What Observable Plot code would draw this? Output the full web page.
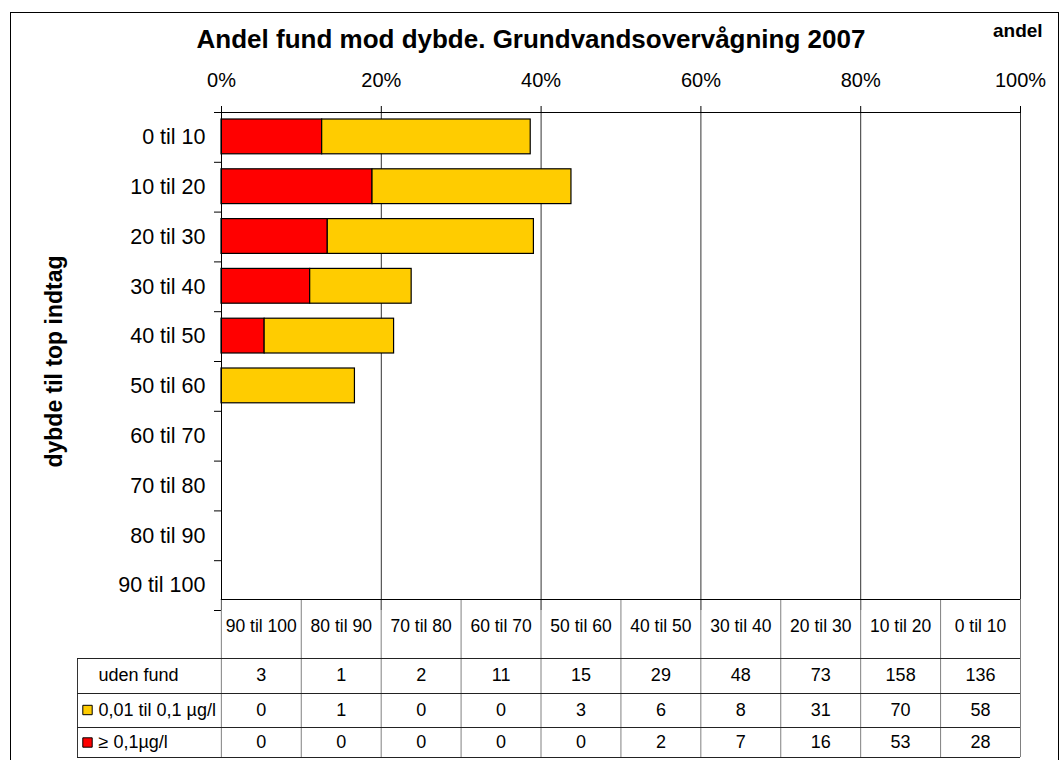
<!DOCTYPE html>
<html>
<head>
<meta charset="utf-8">
<script src="https://cdn.jsdelivr.net/npm/d3@7"></script>
<script src="https://cdn.jsdelivr.net/npm/@observablehq/plot@0.6"></script>
<style>
  body { margin: 0; background: #fff; font-family: "Liberation Sans", Arial, sans-serif; }
  #wrap { position: relative; width: 1062px; height: 760px; overflow: hidden; background: #fff; }
  #border { position: absolute; left: 10px; top: 12px; width: 1049px; height: 820px; border: 1px solid #000; box-sizing: border-box; }
  #title { position: absolute; left: 0; top: 26px; width: 1062px; text-align: center; font-weight: bold; font-size: 26px; line-height: 26px; color: #000; }
  #unit { position: absolute; left: 993px; top: 21px; font-weight: bold; font-size: 19px; line-height: 19px; color: #000; }
  #chart { position: absolute; left: 0; top: 0; }
  #table { position: absolute; left: 0; top: 599px; }
  svg { overflow: visible; }
</style>
</head>
<body>
<div id="wrap">
  <div id="border"></div>
  <div id="chart"></div>
  <div id="table"></div>
  <div id="title">Andel fund mod dybde. Grundvandsovervågning 2007</div>
  <div id="unit">andel</div>
</div>
<script>
// ---- data ----
const depthLabels = ["0 til 10", "10 til 20", "20 til 30", "30 til 40", "40 til 50",
                     "50 til 60", "60 til 70", "70 til 80", "80 til 90", "90 til 100"];
// bar shares in percent
const shareHigh = [12.6, 18.9, 13.3, 11.1, 5.4, 0, 0, 0, 0, 0];      // ≥ 0,1 µg/l
const shareLow  = [26.1, 24.9, 25.8, 12.7, 16.2, 16.7, 0, 0, 0, 0];  // 0,01 til 0,1 µg/l
// data table counts
const countNone = [136, 158, 73, 48, 29, 15, 11, 2, 1, 3];
const countLow  = [58, 70, 31, 8, 6, 3, 0, 0, 1, 0];
const countHigh = [28, 53, 16, 7, 2, 0, 0, 0, 0, 0];
const rowLabels = ["uden fund", "0,01 til 0,1 µg/l", "≥ 0,1µg/l"];
const seriesNames = ["≥ 0,1µg/l", "0,01 til 0,1 µg/l"];
const xTicks = [0, 20, 40, 60, 80, 100];
const yTitle = "dybde til top indtag";

// ---- styling / layout ----
const colors = ["#FF0000", "#FFCC00"];
const font = "'Liberation Sans', Arial, sans-serif";

const bars = depthLabels.flatMap((d, i) => [
  {i, series: seriesNames[0], x1: 0, x2: shareHigh[i]},
  {i, series: seriesNames[1], x1: shareHigh[i], x2: shareHigh[i] + shareLow[i]}
]).filter(b => b.x2 > b.x1);

const chart = Plot.plot({
  width: 1062, height: 615,
  marginLeft: 221, marginRight: 42, marginTop: 112, marginBottom: 5,
  style: {fontFamily: font, fontSize: "20px", color: "#000", background: "transparent", overflow: "visible"},
  x: {domain: [0, 100], axis: null},
  y: {domain: [0, depthLabels.length], reverse: true, axis: null},
  color: {domain: seriesNames, range: colors},
  marks: [
    Plot.gridX(xTicks.slice(1), {stroke: "#333", strokeOpacity: 1}),
    Plot.rectX(bars, {x1: "x1", x2: "x2", y1: d => d.i, y2: d => d.i + 1,
      insetTop: 7, insetBottom: 8, fill: "series", stroke: "#000", strokeWidth: 1.2}),
    Plot.axisX({anchor: "top", ticks: xTicks, tickFormat: d => d + "%", tickSize: 7, tickPadding: 19, fontSize: 20, stroke: "#000"}),
    Plot.axisY({anchor: "left", ticks: d3.range(0, depthLabels.length + 1), tickSize: 7, tickFormat: () => ""}),
    Plot.axisY({anchor: "left", ticks: depthLabels.map((d, i) => i + 0.5), tickSize: 0, tickPadding: 16,
      tickFormat: v => depthLabels[Math.floor(v)], fontSize: 21.5}),
    Plot.ruleY([0], {stroke: "#000"}),
    Plot.ruleX([0], {stroke: "#000"}),
    Plot.text([yTitle], {frameAnchor: "left", textAnchor: "middle", rotate: -90, dx: -167,
      fontWeight: "bold", fontSize: 23})
  ]
});
document.getElementById("chart").append(chart);

// ---- data table under the chart ----
const nCol = depthLabels.length;
const colStep = 100 / nCol;            // each column spans one 10 % slot of the x scale
const labelColWidth = 18;              // width of the row-label column in x-scale units
const rowEdges = [0, 59, 94, 128, 158];
const rowMid = [76, 110.5, 143];
const headerY = 27;
const columns = depthLabels.map((label, i) => ({label, x0: (nCol - 1 - i) * colStep}));
const counts = [countNone, countLow, countHigh];
const cells = counts.flatMap((arr, r) => arr.map((v, i) => ({r, v, x0: columns[i].x0})));
const legendRows = [{r: 1, series: seriesNames[1]}, {r: 2, series: seriesNames[0]}];

const table = Plot.plot({
  width: 1062, height: 161,
  marginLeft: 77, marginRight: 42, marginTop: 0, marginBottom: 0,
  style: {fontFamily: font, fontSize: "18px", color: "#000", background: "transparent", overflow: "visible"},
  x: {domain: [-labelColWidth, 100], axis: null},
  y: {type: "identity", axis: null},
  color: {domain: seriesNames, range: colors},
  marks: [
    Plot.ruleX(d3.range(0, 100 + colStep / 2, colStep), {y1: () => rowEdges[0], y2: () => rowEdges[4], stroke: "#808080"}),
    Plot.ruleX([-labelColWidth], {y1: () => rowEdges[1], y2: () => rowEdges[4], stroke: "#333"}),
    Plot.ruleY([rowEdges[0]], {x1: () => 0, x2: () => 100, stroke: "#000"}),
    Plot.ruleY(rowEdges.slice(1), {x1: () => -labelColWidth, x2: () => 100, stroke: "#222"}),
    Plot.text(columns, {x: d => d.x0 + colStep / 2, y: () => headerY, text: "label", fontSize: 17.5}),
    Plot.text(cells, {x: d => d.x0 + colStep / 2, y: d => rowMid[d.r], text: d => String(d.v)}),
    Plot.text(rowLabels, {x: () => -labelColWidth, y: (d, i) => rowMid[i], dx: 21, textAnchor: "start"}),
    Plot.dot(legendRows, {x: () => -labelColWidth, y: d => rowMid[d.r], dx: 10, symbol: "square", r: 5.3,
      fill: "series", stroke: "#000", strokeWidth: 1})
  ]
});
document.getElementById("table").append(table);
</script>
</body>
</html>
